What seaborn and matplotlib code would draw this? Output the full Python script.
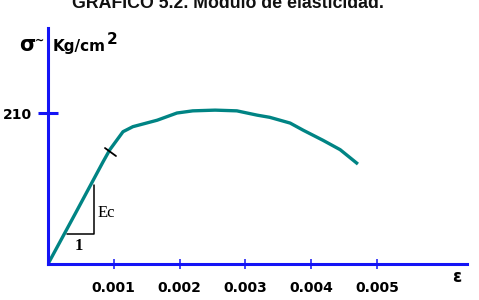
import matplotlib
matplotlib.use("Agg")
import matplotlib.pyplot as plt
import seaborn as sns
import pandas as pd

# ---- data ----
strain = [0, 0.00042, 0.000836, 0.00094, 0.00114, 0.00129, 0.00166, 0.00196,
          0.00220, 0.00254, 0.00287, 0.00318, 0.00337, 0.00368, 0.00388,
          0.00418, 0.00444, 0.00471]
stress = [0, 71, 142, 159, 184, 191, 200, 210, 213, 214, 213, 207, 204, 196,
          186, 172, 159, 139]
x_ticks = [0.001, 0.002, 0.003, 0.004, 0.005]
x_tick_labels = ["0.001", "0.002", "0.003", "0.004", "0.005"]
y_ticks = [210]
y_tick_labels = ["210"]
tri_x = [0.000289, 0.000699, 0.000699]
tri_y = [41.7, 41.7, 110]
mark_x = [0.000866, 0.001033]
mark_y = [161.3, 150.2]
title = "GRAFICO 5.2. Modulo de elasticidad."

sns.set_style("white")
plt.rcParams['font.family'] = ['DejaVu Sans']
plt.rcParams['text.color'] = 'black'

W, H = 479, 300
fig = plt.figure(figsize=(W / 100, H / 100), dpi=100)
fig.patch.set_facecolor("white")

x0, x1 = 48, 467
y0, y1 = 264, 28
ax = fig.add_axes([x0 / W, 1 - y0 / H, (x1 - x0) / W, (y0 - y1) / H])
ax.set_facecolor("white")

df = pd.DataFrame({"strain": strain, "stress": stress})
sns.lineplot(data=df, x="strain", y="stress", sort=False, color="#008484",
             linewidth=2.4, ax=ax, solid_capstyle="butt")

ax.plot(tri_x, tri_y, color="black", linewidth=1.1)
ax.plot(mark_x, mark_y, color="black", linewidth=1.3)
ax.text(0.00047, 36, "1", family="Liberation Serif", fontweight="bold",
        fontsize=12, ha="center", va="top", color="black")
ax.text(0.000745, 71, "Ec", family="Liberation Serif", fontsize=12,
        ha="left", va="center", color="black")

ax.set_xlim(0, (x1 - x0) / 65800)
ax.set_ylim(0, (y0 - y1) / 0.719)

blue = "#1414f5"
for s in ["top", "right"]:
    ax.spines[s].set_visible(False)
for s in ["left", "bottom"]:
    ax.spines[s].set_color(blue)
    ax.spines[s].set_linewidth(2.2)

ax.set_xticks(x_ticks)
ax.set_xticklabels(x_tick_labels)
ax.set_yticks(y_ticks)
ax.set_yticklabels(y_tick_labels)
ax.tick_params(axis="x", bottom=True, direction="inout", length=7, width=1.1,
               color=blue, pad=9, labelsize=10, labelcolor="black")
ax.tick_params(axis="y", left=True, direction="inout", length=15, width=2.2,
               color=blue, pad=4, labelsize=10, labelcolor="black")
for lab in ax.get_xticklabels() + ax.get_yticklabels():
    lab.set_fontweight("bold")
ax.set_xlabel("")
ax.set_ylabel("")

fig.text(228 / W, 1 - 8 / H, title, family="Liberation Sans", fontweight="bold",
         fontsize=12.8, ha="center", va="baseline", color="#111111")
fig.text(19 / W, 1 - 45 / H, "σ", fontweight="bold", fontsize=15,
         ha="left", va="center")
fig.text(35 / W, 1 - 41 / H, "~", fontweight="bold", fontsize=8,
         ha="left", va="center")
fig.text(53 / W, 1 - 46 / H, "Kg/cm", fontweight="bold", fontsize=11,
         ha="left", va="center")
fig.text(107 / W, 1 - 40 / H, "2", fontweight="bold", fontsize=11,
         ha="left", va="center")
fig.text(457 / W, 1 - 277 / H, "ε", fontweight="bold", fontsize=12,
         ha="center", va="center")

fig.savefig("out.png", dpi=100, facecolor="white")
